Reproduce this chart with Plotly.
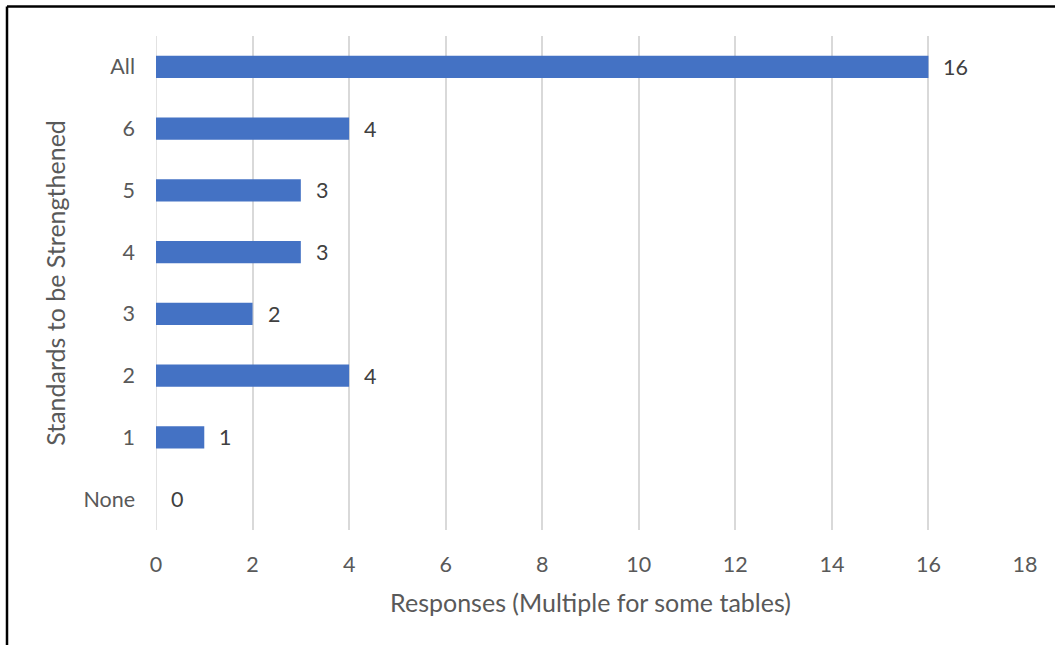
import plotly.graph_objects as go

categories = ["None", "1", "2", "3", "4", "5", "6", "All"]
responses = [0, 1, 4, 2, 3, 3, 4, 16]
x_ticks = [0, 2, 4, 6, 8, 10, 12, 14, 16, 18]

BAR = "#4472C4"
TXT = "#595959"
GRID = "#D9D9D9"
FONT = "Lato"

W, H = 1055, 645
L, R, T, B = 156, 30, 36, 115
pw, ph = W - L - R, H - T - B

fig = go.Figure()
fig.add_trace(go.Bar(
    x=responses, y=categories, orientation="h",
    marker=dict(color=BAR, line=dict(width=0)),
    width=0.36, hoverinfo="skip",
))

for c, v in zip(categories, responses):
    fig.add_annotation(x=v, y=c, xref="x", yref="y", text=str(v),
                       showarrow=False, xanchor="left", xshift=13,
                       font=dict(family=FONT, size=21.5, color="#404040"))

fig.update_xaxes(
    range=[0, 18], tickvals=x_ticks, showgrid=True, gridcolor=GRID, gridwidth=1.5,
    zeroline=False, showline=False, ticks="",
    tickfont=dict(family=FONT, size=21.5, color=TXT), ticklabelstandoff=19,
    title=dict(text="Responses (Multiple for some tables)",
               font=dict(family=FONT, size=25, color=TXT), standoff=18),
    fixedrange=True,
)
fig.update_yaxes(
    type="category", categoryorder="array", categoryarray=categories,
    range=[-0.5, 7.5], showgrid=False, zeroline=False, showline=False, ticks="",
    tickfont=dict(family=FONT, size=21.5, color=TXT), ticklabelstandoff=20,
    title=dict(text="Standards to be Strengthened",
               font=dict(family=FONT, size=25, color=TXT), standoff=10),
    fixedrange=True,
)

# gridline at x=0 (Excel draws it as a normal gridline)
fig.add_shape(type="line", xref="x", yref="paper", x0=0, x1=0, y0=0, y1=1,
              line=dict(color=GRID, width=1.5), layer="below")

# outer frame (top and left edges visible)
lx = (7 - L) / pw
ty = (H - B - 6.5) / ph
fig.add_shape(type="line", xref="paper", yref="paper", x0=lx, x1=(W + 5 - L) / pw,
              y0=ty, y1=ty, line=dict(color="black", width=2.5))
fig.add_shape(type="line", xref="paper", yref="paper", x0=lx, x1=lx,
              y0=ty, y1=(H - B - H - 5) / ph, line=dict(color="black", width=2.5))

fig.update_layout(
    width=W, height=H, margin=dict(l=L, r=R, t=T, b=B),
    plot_bgcolor="white", paper_bgcolor="white", showlegend=False,
    bargap=0.64,
)
fig.write_html("out.html", config={"displayModeBar": False})
